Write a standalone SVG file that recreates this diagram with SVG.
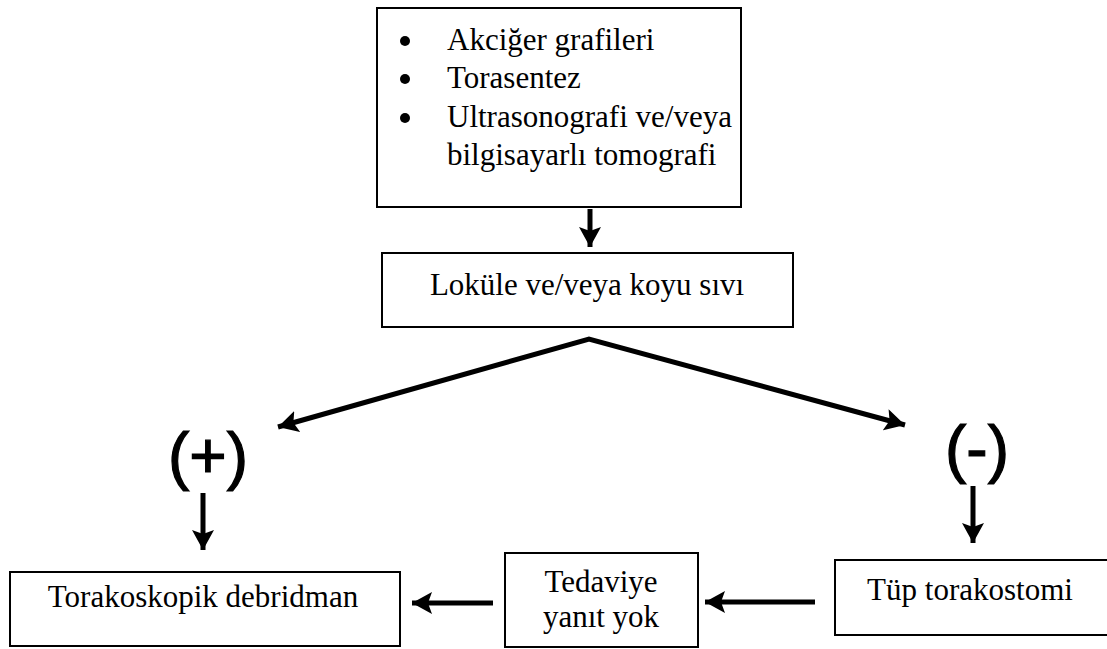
<svg xmlns="http://www.w3.org/2000/svg" width="1107" height="649" viewBox="0 0 1107 649">
  <style>
    .box { fill: #fff; stroke: #000; stroke-width: 2; }
    .t { font-family: "Liberation Serif", "Times New Roman", serif; font-size: 31px; fill: #000; }
    .c { text-anchor: middle; }
    .sign { font-family: "Liberation Sans", Arial, sans-serif; font-size: 64px; fill: #000; stroke: #000; stroke-width: 1.2; text-anchor: middle; }
    .conn { fill: none; stroke: #000; stroke-width: 5; stroke-linejoin: miter; }
  </style>
  <defs>
    <marker id="ah" markerUnits="userSpaceOnUse" markerWidth="22" markerHeight="22" refX="20" refY="11" orient="auto-start-reverse">
      <path d="M0,0 L20,11 L0,22 L4,11 Z" fill="#000"/>
    </marker>
  </defs>
  <rect width="1107" height="649" fill="#fff"/>

  <g id="node-tests">
    <rect class="box" x="377" y="8" width="364" height="199"/>
    <circle cx="405" cy="41" r="5"/>
    <circle cx="405" cy="79" r="5"/>
    <circle cx="405" cy="118" r="5"/>
    <text class="t" x="447" y="50">Akciğer grafileri</text>
    <text class="t" x="447" y="88">Torasentez</text>
    <text class="t" x="447" y="127">Ultrasonografi ve/veya</text>
    <text class="t" x="447" y="165">bilgisayarlı tomografi</text>
  </g>

  <g id="node-lokule">
    <rect class="box" x="382" y="253" width="411" height="74"/>
    <text class="t c" x="587" y="295">Loküle ve/veya koyu sıvı</text>
  </g>

  <g id="node-plus">
    <text class="sign" x="208" y="478">(+)</text>
  </g>

  <g id="node-minus">
    <text class="sign" x="977" y="471">(-)</text>
  </g>

  <g id="node-torakoskopik">
    <rect class="box" x="10" y="572" width="390" height="74"/>
    <text class="t c" x="203" y="607">Torakoskopik debridman</text>
  </g>

  <g id="node-yanit">
    <rect class="box" x="505" y="553" width="193" height="94"/>
    <text class="t c" x="601" y="592">Tedaviye</text>
    <text class="t c" x="601" y="627">yanıt yok</text>
  </g>

  <g id="node-tup">
    <rect class="box" x="835" y="560" width="280" height="75"/>
    <text class="t c" x="970" y="600">Tüp torakostomi</text>
  </g>

  <g id="connectors">
    <path class="conn" d="M590,209 L590,247" marker-end="url(#ah)"/>
    <path class="conn" d="M278,427 L589,339 L905,425" marker-start="url(#ah)" marker-end="url(#ah)"/>
    <path class="conn" d="M203,493 L203,550" marker-end="url(#ah)"/>
    <path class="conn" d="M973,486 L973,543" marker-end="url(#ah)"/>
    <path class="conn" d="M815,602 L705,602" marker-end="url(#ah)"/>
    <path class="conn" d="M493,603 L412,603" marker-end="url(#ah)"/>
  </g>
</svg>
